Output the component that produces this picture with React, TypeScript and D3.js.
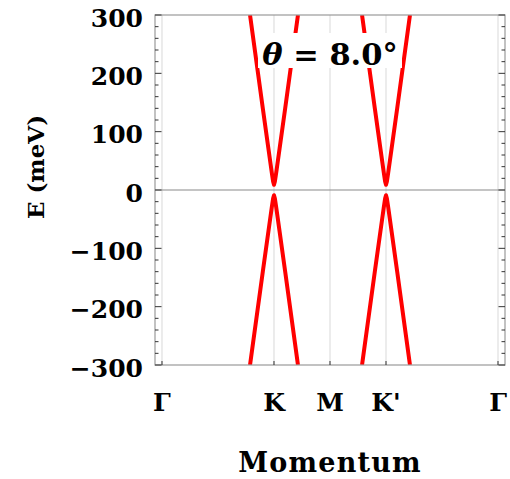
import React from "react";
import * as d3 from "d3";

// High-symmetry path: Γ – K – M – K' – Γ (momentum in units of |ΓK|)
const kTickLabels = ["Γ", "K", "M", "K'", "Γ"];
const kTickValues = [0, 1, 1.5, 2, 3];

// Energy axis ticks (meV)
const eMajorTicks = [-300, -200, -100, 0, 100, 200, 300];
const eMinorTicks = d3.range(-300, 301, 20);

// Dirac cone offsets from the valley point (units of |ΓK|) and energies (meV)
const coneDk = [-0.214, -0.1, -0.05, -0.02, -0.008, 0, 0.008, 0.02, 0.05, 0.1, 0.214];
const coneE = [300, 140, 71, 30, 14.5, 9, 14.5, 30, 71, 140, 300];

// Valley centres
const valleyK = [1, 2];

const thetaLabel = "8.0°";

const W = 510;
const H = 479;
const margin = { left: 155, top: 15, right: 5, bottom: 114 };
const innerW = W - margin.left - margin.right;
const innerH = H - margin.top - margin.bottom;

const font = "'DejaVu Serif', 'Liberation Serif', serif";

export default function App() {
  const x = d3.scaleLinear().domain([-0.0624, 3.0624]).range([margin.left, margin.left + innerW]);
  const y = d3.scaleLinear().domain([-300, 300]).range([margin.top + innerH, margin.top]);

  const line = d3
    .line<[number, number]>()
    .x((d) => x(d[0]))
    .y((d) => y(d[1]));

  const bands: [number, number][][] = [];
  valleyK.forEach((k0) => {
    bands.push(coneDk.map((dk, i) => [k0 + dk, coneE[i]] as [number, number]));
    bands.push(coneDk.map((dk, i) => [k0 + dk, -coneE[i]] as [number, number]));
  });

  const x0 = margin.left;
  const x1 = margin.left + innerW;
  const y0 = margin.top;
  const y1 = margin.top + innerH;

  return (
    <svg width={W} height={H} style={{ position: "absolute", left: 0, top: 0 }}>
      <defs>
        <clipPath id="plotclip">
          <rect x={x0} y={y0} width={innerW} height={innerH} />
        </clipPath>
      </defs>
      <rect x={0} y={0} width={W} height={H} fill="#fff" />
      {/* gridlines */}
      {kTickValues.map((k, i) => (
        <line key={"g" + i} x1={x(k)} x2={x(k)} y1={y0} y2={y1} stroke="#d9d9d9" strokeWidth={1} />
      ))}
      <line x1={x0} x2={x1} y1={y(0)} y2={y(0)} stroke="#8a8a8a" strokeWidth={1.2} />
      {/* bands */}
      <g clipPath="url(#plotclip)">
        {bands.map((b, i) => (
          <path key={"b" + i} d={line(b) || ""} fill="none" stroke="#ff0000" strokeWidth={4} strokeLinejoin="round" />
        ))}
      </g>
      {/* frame */}
      <rect x={x0} y={y0} width={innerW} height={innerH} fill="none" stroke="#9a9a9a" strokeWidth={1.2} />
      {/* y ticks */}
      {eMinorTicks.map((e) => {
        const major = e % 100 === 0;
        const len = major ? 6.5 : 3.5;
        return (
          <g key={"t" + e}>
            <line x1={x0} x2={x0 + len} y1={y(e)} y2={y(e)} stroke="#333" strokeWidth={1} />
            <line x1={x1} x2={x1 - len} y1={y(e)} y2={y(e)} stroke="#333" strokeWidth={1} />
          </g>
        );
      })}
      {eMajorTicks.map((e) => (
        <text
          key={"l" + e}
          x={143}
          y={y(e) + 11.5}
          textAnchor="end"
          fontFamily={font}
          fontWeight="bold"
          fontSize={25}
          fill="#000"
        >
          {e < 0 ? "\u2212" + Math.abs(e) : String(e)}
        </text>
      ))}
      {/* x ticks */}
      {kTickValues.map((k, i) => (
        <g key={"xt" + i}>
          <line x1={x(k)} x2={x(k)} y1={y1} y2={y1 - 4} stroke="#333" strokeWidth={1} />
          <text
            x={x(k)}
            y={411}
            textAnchor="middle"
            fontFamily={font}
            fontWeight="bold"
            fontSize={25}
            fill="#000"
          >
            {kTickLabels[i]}
          </text>
        </g>
      ))}
      {/* theta label */}
      <rect x={258} y={33} width={144} height={35} fill="#fff" />
      <text x={x(1.5)} y={65} textAnchor="middle" fontFamily={font} fontWeight="bold" fontSize={30.5} fill="#000">
        <tspan fontStyle="italic">θ</tspan>
        {" = " + thetaLabel}
      </text>
      {/* axis titles */}
      <text
        x={330}
        y={472}
        textAnchor="middle"
        fontFamily={font}
        fontWeight="bold"
        fontSize={27}
        letterSpacing={1.2}
        fill="#000"
      >
        Momentum
      </text>
      <text
        transform="translate(43.5,167) rotate(-90)"
        textAnchor="middle"
        fontFamily={font}
        fontWeight="bold"
        fontSize={23}
        fill="#000"
      >
        E (meV)
      </text>
    </svg>
  );
}
